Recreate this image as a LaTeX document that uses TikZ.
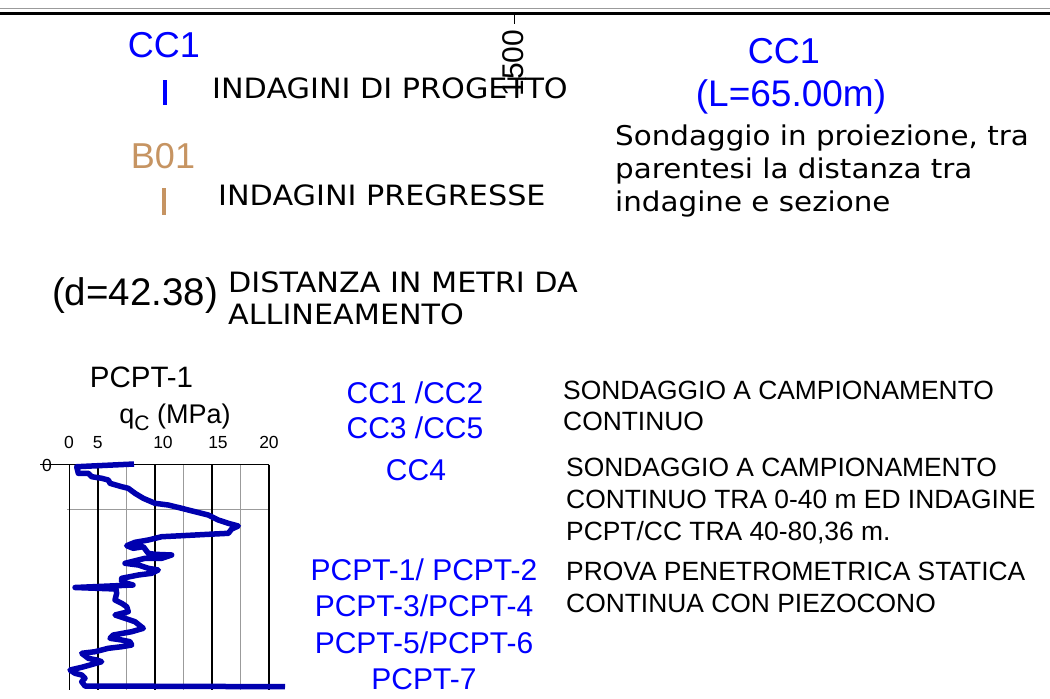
\documentclass[tikz,border=0pt]{standalone}
\usepackage{fontspec}
\setmainfont{Liberation Sans}
\newfontfamily\vfont[FakeStretch=1.08]{DejaVu Sans}
\newcommand{\fsz}[1]{\fontsize{#1}{#1}\selectfont}
\definecolor{sondblu}{RGB}{0,0,255}
\definecolor{pregr}{RGB}{198,148,98}
\definecolor{curvablu}{RGB}{0,0,175}
\definecolor{grigio}{RGB}{155,155,155}
\tikzset{
  sigla/.style = {inner sep=0pt, anchor=base, sondblu, font=\fsz{36}},% sigla indagine
  descr/.style = {inner sep=0pt, anchor=base west, font=\vfont\fsz{28}},% testo legenda superiore
  leg/.style = {inner sep=0pt, anchor=base west, font=\fsz{26.4}},% testo legenda inferiore
  legsig/.style = {inner sep=0pt, anchor=base, sondblu, font=\fsz{30}},
  asse/.style = {inner sep=0pt, anchor=base, font=\fsz{17.5}},
  gnero/.style = {black, line width=1.6pt},
  ggrigio/.style = {grigio, line width=1.6pt},
  tacca/.style = {line width=4pt},
}

\begin{document}
\begin{tikzpicture}[x=1pt,y=-1pt]
  \useasboundingbox (0,0) rectangle (1050,699);

  %   cornice superiore
  \draw[grigio, line width=1pt] (0,8) -- (1050,8);
  \draw[line width=2.5pt] (0,13.5) -- (1050,13.5);
  \draw[line width=0.8pt] (514,13.5) -- (514,24);
  \node[inner sep=0pt, rotate=90, font=\fsz{30}] (prog1500) at (513,63) {1500};

  %   indagini di progetto e pregresse
  \node[sigla] (cc1) at (164,57) {CC1};
  \draw[tacca, sondblu] (165,80) -- (165,105);
  \node[descr] (prog) at (212,98) {INDAGINI DI PROGETTO};
  \node[sigla, pregr] (b01) at (163,168) {B01};
  \draw[tacca, pregr] (164,188) -- (164,215);
  \node[descr] (pregr) at (218,205) {INDAGINI PREGRESSE};

  %   sondaggio in proiezione
  \node[sigla] (cc1p) at (784,63) {CC1};
  \node[sigla, font=\fsz{37}] (lcc1) at (791,106) {(L=65.00m)};
  \node[descr, font=\vfont\fsz{27.2}] (sond1) at (615,145) {Sondaggio in proiezione, tra};
  \node[descr, font=\vfont\fsz{27.2}] (sond2) at (615,178) {parentesi la distanza tra};
  \node[descr, font=\vfont\fsz{27.2}] (sond3) at (615,211) {indagine e sezione};

  %   distanza
  \node[inner sep=0pt, anchor=base, font=\fsz{38.5}] (dist) at (135,305) {(d=42.38)};
  \node[descr] (dist1) at (228,292) {DISTANZA IN METRI DA};
  \node[descr] (dist2) at (228,324) {ALLINEAMENTO};

  %   grafico qc
  \node[inner sep=0pt, anchor=base, font=\fsz{29.5}] (pcpt) at (141.5,387) {PCPT-1};
  \node[inner sep=0pt, anchor=base, font=\fsz{27}] (qc) at (175,423)
    {q\raisebox{-7pt}{\fsz{21}C} (MPa)};
  \node[asse] (n0) at (69,448) {0};
  \node[asse] (n5) at (97.7,448) {5};
  \node[asse] (n10) at (163,448) {10};
  \node[asse] (n15) at (218,448) {15};
  \node[asse] (n20) at (269,448) {20};
  \node[asse] (z0) at (47,471) {0};

  \draw[ggrigio] (126.5,464.5) -- (126.5,690);
  \draw[ggrigio] (183.5,464.5) -- (183.5,690);
  \draw[ggrigio] (240.5,464.5) -- (240.5,690);
  \draw[ggrigio] (67,509.3) -- (269,509.3);
  \draw[gnero] (69.3,464.5) -- (69.3,690);
  \draw[gnero] (98,464.5) -- (98,690);
  \draw[gnero] (155,464.5) -- (155,690);
  \draw[gnero] (212,464.5) -- (212,690);
  \draw[gnero] (269,464.5) -- (269,690);
  \draw[gnero] (40,464.5) -- (269,464.5);

  \draw[curvablu, line width=5.5pt, line join=round]
    (134,464) -- (76.7,466.7) -- (78.3,473.3) -- (88.3,473.3) -- (91.7,476.7)
    -- (101.7,478.3) -- (108.3,480) -- (110,483.3) -- (121.7,486.7) -- (128.3,488.3)
    -- (135,493.3) -- (143.3,498.3) -- (155,503.3) -- (168.3,505) -- (181.7,508.3)
    -- (195,511.7) -- (208.3,515) -- (218.3,520) -- (228.3,523.3) -- (238.3,526)
    -- (231.7,529) -- (228.3,533.3) -- (208.3,534.3) -- (181.7,535.7) -- (161.7,536.7)
    -- (148.3,540) -- (135,542.3) -- (126.7,545.7) -- (133.3,548.3) -- (143.3,546.7)
    -- (148.3,553.3) -- (155,554.3) -- (171.7,555) -- (161.7,558.3) -- (145,558.3)
    -- (125,563.3) -- (138.3,565) -- (148.3,568.3) -- (158.3,570) -- (151.7,573.3)
    -- (138.3,575) -- (121.7,578.3) -- (121.7,581.7) -- (133,585) -- (75,587.5)
    -- (116,589) -- (116.7,593.3) -- (115,600) -- (121.7,603.3) -- (126.7,606.7)
    -- (128.3,611.7) -- (115,615) -- (125,618.3) -- (135,621.7) -- (143.3,628.3)
    -- (131.7,631.7) -- (113.3,635) -- (110,638.3) -- (121.7,640) -- (130,641.7)
    -- (131.7,645) -- (121.7,646.7) -- (108.3,648.3) -- (95,651.7) -- (81.7,653.3)
    -- (88.3,658.3) -- (96.7,660) -- (101.7,661.7) -- (90,665) -- (81.7,667.3)
    -- (70,670) -- (75,673.3) -- (81.7,675) -- (85,678.3) -- (81.7,681.7)
    -- (85,686) -- (285,686.7);

  %   legenda sigle
  \node[legsig] (cc12) at (415,403) {CC1 /CC2};
  \node[legsig] (cc35) at (415,438) {CC3 /CC5};
  \node[legsig] (cc4) at (416,480) {CC4};
  \node[legsig] (pcpt12) at (424,580) {PCPT-1/ PCPT-2};
  \node[legsig] (pcpt34) at (424,616.5) {PCPT-3/PCPT-4};
  \node[legsig] (pcpt56) at (424,653) {PCPT-5/PCPT-6};
  \node[legsig] (pcpt7) at (424,689.5) {PCPT-7};

  \node[leg] (leg1a) at (563,399.3) {SONDAGGIO A CAMPIONAMENTO};
  \node[leg] (leg1b) at (563,430) {CONTINUO};
  \node[leg] (leg2a) at (566,476) {SONDAGGIO A CAMPIONAMENTO};
  \node[leg] (leg2b) at (566,508) {CONTINUO TRA 0-40 m ED INDAGINE};
  \node[leg] (leg2c) at (566,540) {PCPT/CC TRA 40-80,36 m.};
  \node[leg] (leg3a) at (566,580) {PROVA PENETROMETRICA STATICA};
  \node[leg] (leg3b) at (566,612) {CONTINUA CON PIEZOCONO};
\end{tikzpicture}
\end{document}
